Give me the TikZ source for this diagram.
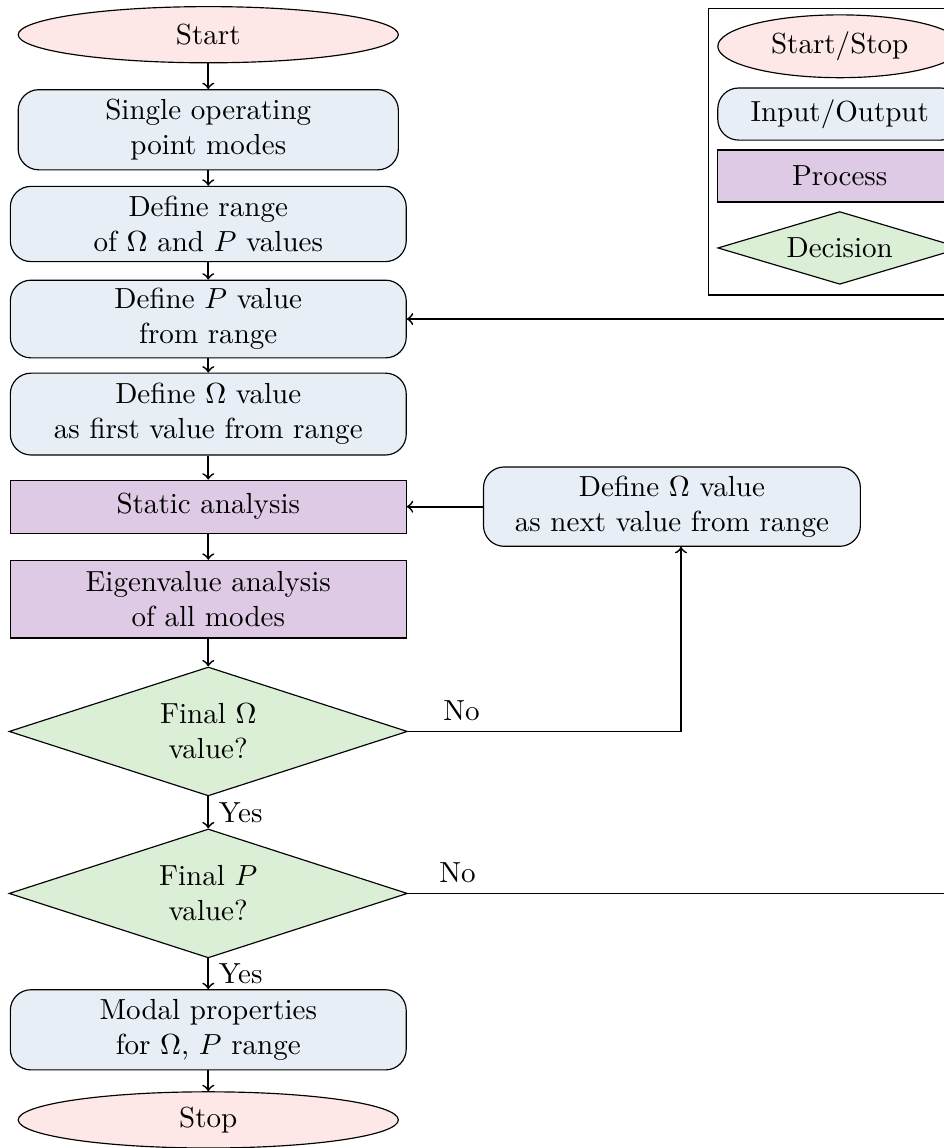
\documentclass[tikz,border=0pt]{standalone}
\usepackage{amsmath}
\usepackage{amssymb}
\usepackage{tikz}
\usetikzlibrary{shapes.geometric}
\usepackage{xcolor}
\definecolor{startcol}{RGB}{253,231,231}
\definecolor{iocol}{RGB}{231,238,246}
\definecolor{proccol}{RGB}{222,202,228}
\definecolor{deccol}{RGB}{219,239,215}
\tikzset{
  startstop/.style={ellipse, draw, fill=startcol, minimum width=4.6cm, minimum height=0.68cm, inner sep=0pt},
  io/.style={rectangle, rounded corners=0.25cm, draw, fill=iocol, minimum width=4.79cm, align=center, inner sep=0pt},
  process/.style={rectangle, draw, fill=proccol, minimum width=4.79cm, align=center, inner sep=0pt},
  decision/.style={diamond, aspect=3.1, draw, fill=deccol, minimum width=4.82cm, minimum height=1.56cm, align=center, inner sep=0pt},
  arr/.style={->, semithick}
}

\begin{document}
\begin{tikzpicture}
            \useasboundingbox (0,0) rectangle (11.42,-13.89);
            % main column
            \node (start) [startstop] at (2.52,-0.42) {Start};
            \node (single) [io, minimum width=4.6cm, minimum height=0.97cm] at (2.52,-1.57) {Single operating\\ point modes};
            \node (range) [io, minimum height=0.91cm] at (2.52,-2.71) {Define range\\ of $\Omega$ and $P$ values};
            \node (defP) [io, minimum height=0.94cm] at (2.52,-3.86) {Define $P$ value\\ from range};
            \node (defO) [io, minimum height=0.99cm] at (2.52,-5.01) {Define $\Omega$ value\\ as first value from range};
            \node (static) [process, minimum height=0.64cm] at (2.52,-6.13) {Static analysis};
            \node (eigen) [process, minimum height=0.94cm] at (2.52,-7.25) {Eigenvalue analysis\\ of all modes};
            \node (finalO) [decision] at (2.52,-8.85) {Final $\Omega$\\ value?};
            \node (finalP) [decision] at (2.52,-10.81) {Final $P$\\ value?};
            \node (modal) [io, minimum height=0.97cm] at (2.52,-12.46) {Modal properties\\ for $\Omega$, $P$ range};
            \node (stop) [startstop] at (2.52,-13.55) {Stop};
            \node (nextO) [io, minimum width=4.56cm, minimum height=0.96cm] at (8.13,-6.13) {Define $\Omega$ value\\ as next value from range};
            % legend
            \draw (8.57,-0.10) rectangle (11.8,-3.57);
            \node (lstart) [startstop, minimum width=2.95cm, minimum height=0.76cm] at (10.16,-0.56) {Start/Stop};
            \node (lio) [io, minimum width=2.95cm, minimum height=0.63cm] at (10.16,-1.38) {Input/Output};
            \node (lproc) [process, minimum width=2.95cm, minimum height=0.63cm] at (10.16,-2.13) {Process};
            \node (ldec) [decision, aspect=3.35, minimum width=2.95cm, minimum height=0.88cm] at (10.16,-3.00) {Decision};
            % connectors
            \draw [arr] (start) -- (single);
            \draw [arr] (single) -- (range);
            \draw [arr] (range) -- (defP);
            \draw [arr] (defP) -- (defO);
            \draw [arr] (defO) -- (static);
            \draw [arr] (static) -- (eigen);
            \draw [arr] (eigen) -- (finalO);
            \draw [arr] (finalO) -- node[right] {Yes} (finalP);
            \draw [arr] (finalP) -- node[right] {Yes} (modal);
            \draw [arr] (modal) -- (stop);
            \draw [arr] (nextO) -- (static);
            \draw [arr] (finalO.east) node[above right, xshift=0.3cm] {No} -| ([xshift=0.11cm]nextO.south);
            \coordinate (loopP) at (11.62,-10.81);
            \draw [arr] (finalP.east) node[above right, xshift=0.25cm] {No} -- (loopP) |- (defP.east);
        \end{tikzpicture}
\end{document}
